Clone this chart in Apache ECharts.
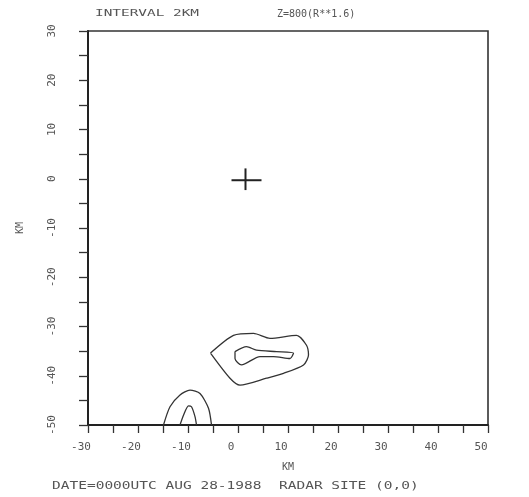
<!DOCTYPE html>
<html>
<head>
<meta charset="utf-8">
<script src="https://cdn.jsdelivr.net/npm/echarts@6/dist/echarts.min.js"></script>
<style>html,body{margin:0;padding:0;background:#fff;}#c{width:529px;height:497px;}</style>
</head>
<body>
<div id="c"></div>
<script>
// tick labels (km)
var xTicks = [-30, -20, -10, 0, 10, 20, 30, 40, 50];
var yTicks = [-50, -40, -30, -20, -10, 0, 10, 20, 30];
// contour lines (km coordinates)
var upperOuter = [[-5.5,-35.4],[-0.9,-31.8],[3.1,-31.4],[6.4,-32.4],[11.7,-31.8],[13.7,-33.8],[14.1,-35.8],[13.1,-37.8],[9.1,-39.5],[5.7,-40.5],[0.4,-41.9],[-1.6,-40.5],[-5.5,-35.4]];
var upperInner = [[-0.6,-35.1],[1.7,-34.1],[3.7,-34.8],[7.7,-35.1],[11.1,-35.4],[10.4,-36.5],[7.1,-36.1],[4.4,-36.1],[0.7,-37.8],[-0.6,-36.5],[-0.6,-35.1]];
var lowerOuter = [[-14.9,-50],[-13.6,-46.3],[-11.6,-43.9],[-9.6,-42.9],[-7.6,-43.6],[-5.9,-46.6],[-5.3,-50]];
var lowerInner = [[-11.6,-50],[-10.9,-48],[-9.9,-46.1],[-9.3,-46.3],[-8.6,-48.3],[-8.3,-50]];
// radar site cross
var crossH = [[-1.3,-0.3],[4.7,-0.3]];
var crossV = [[1.5,2.1],[1.5,-2.3]];

var FONT = 'DejaVu Sans Mono';
var INK = '#333';
function contour(d){
  return {type:'line', data:d, showSymbol:false, symbol:'none', smooth:0.25,
    lineStyle:{color:INK, width:1.3}, silent:true, animation:false};
}
function seg(d){
  return {type:'line', data:d, showSymbol:false, symbol:'none',
    lineStyle:{color:'#222', width:2}, silent:true, animation:false};
}
var chart = echarts.init(document.getElementById('c'));
chart.setOption({
  backgroundColor:'#fff',
  animation:false,
  grid:{left:88, top:31, width:400, height:394, show:true, borderColor:'#333', borderWidth:1.6},
  xAxis:{type:'value', min:-30, max:50, interval:5,
    name:'KM', nameLocation:'middle', nameGap:37,
    nameTextStyle:{fontFamily:FONT, fontSize:10, color:'#555'},
    axisLine:{onZero:false, lineStyle:{color:'#222', width:2}},
    axisTick:{length:8, lineStyle:{color:'#333', width:1.3}},
    splitLine:{show:false},
    axisLabel:{margin:17, fontFamily:FONT, fontSize:11, color:'#555', padding:[0,14,0,0],
      formatter:function(v){return xTicks.indexOf(v)>=0 ? String(v) : '';}}
  },
  yAxis:{type:'value', min:-50, max:30, interval:5,
    name:'KM', nameLocation:'middle', nameGap:63, nameRotate:90,
    nameTextStyle:{fontFamily:FONT, fontSize:10, color:'#555'},
    axisLine:{onZero:false, lineStyle:{color:'#222', width:2}},
    axisTick:{length:9, lineStyle:{color:'#333', width:1.3}},
    splitLine:{show:false},
    axisLabel:{margin:30, rotate:90, fontFamily:FONT, fontSize:11, color:'#555',
      formatter:function(v){return yTicks.indexOf(v)>=0 ? String(v) : '';}}
  },
  graphic:[
    {type:'text', left:95, top:9, scaleX:1.6, style:{text:'INTERVAL 2KM', font:'9px "DejaVu Sans Mono"', fill:'#555'}},
    {type:'text', left:277, top:9, style:{text:'Z=800(R**1.6)', font:'10px "DejaVu Sans Mono"', fill:'#555'}},
    {type:'text', left:52, top:481, scaleX:1.45, style:{text:'DATE=0000UTC AUG 28-1988  RADAR SITE (0,0)', font:'10px "DejaVu Sans Mono"', fill:'#555'}}
  ],
  series:[contour(upperOuter), contour(upperInner), contour(lowerOuter), contour(lowerInner), seg(crossH), seg(crossV)]
});
</script>
</body>
</html>
